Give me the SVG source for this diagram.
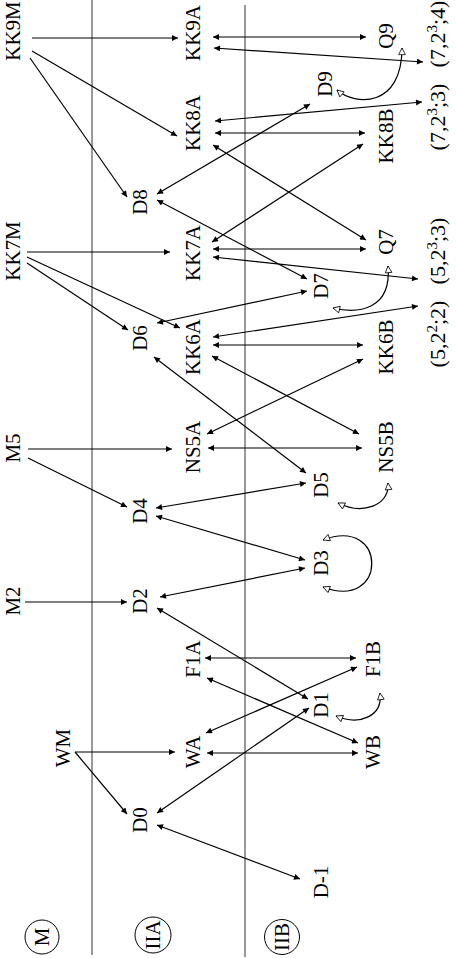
<svg xmlns="http://www.w3.org/2000/svg" width="456" height="958" viewBox="0 0 456 958">
<style>
text{font-family:"Liberation Serif","Times New Roman",serif;font-size:21px;fill:#000;text-anchor:middle}
text.p{font-size:22px}
.c{stroke:#000;stroke-width:1.2;fill:none}
.d{marker-start:url(#a);marker-end:url(#a)}
.s{marker-end:url(#a)}
.o{marker-start:url(#o);marker-end:url(#o)}
.g{stroke:#333;stroke-width:1}
</style>
<defs>
<marker id="a" viewBox="0 0 10 10" refX="10" refY="5" markerWidth="9" markerHeight="6" orient="auto-start-reverse" markerUnits="userSpaceOnUse"><path d="M0,0 L10,5 L0,10 z" fill="#000"/></marker>
<marker id="o" viewBox="-1 -1 12 12" refX="10" refY="5" markerWidth="10" markerHeight="8" orient="auto-start-reverse" markerUnits="userSpaceOnUse"><path d="M0,0 L10,5 L0,10 z" fill="#fff" stroke="#000" stroke-width="1.2"/></marker>
</defs>
<rect width="456" height="958" fill="#fff"/>
<g id="guides">
<line class="g" x1="92" y1="0" x2="92" y2="955"/>
<line class="g" x1="245" y1="5" x2="245" y2="957"/>
</g>
<g id="regions">
<g id="reg-M"><circle cx="42" cy="937" r="17" fill="none" stroke="#000" stroke-width="1"/><text transform="translate(49,937) rotate(-90)">M</text></g>
<g id="reg-IIA"><circle cx="153" cy="935" r="18" fill="none" stroke="#000" stroke-width="1"/><text transform="translate(160,935) rotate(-90)">IIA</text></g>
<g id="reg-IIB"><circle cx="282" cy="937" r="17.5" fill="none" stroke="#000" stroke-width="1"/><text transform="translate(289,937) rotate(-90)">IIB</text></g>
</g>
<g id="connectors">
<path class="c s" d="M32,38 L178,38"/>
<path class="c s" d="M32,51 L177,136"/>
<path class="c s" d="M30,58 L127,197"/>
<path class="c s" d="M27,252 L170,252"/>
<path class="c s" d="M27,263 L128,330"/>
<path class="c s" d="M27,257 L180,328"/>
<path class="c s" d="M28,449 L172,449"/>
<path class="c s" d="M28,458 L127,507"/>
<path class="c s" d="M25,602 L127,602"/>
<path class="c s" d="M75,752 L175,752"/>
<path class="c s" d="M75,752 L127,814"/>
<path class="c d" d="M213,37 L366,37"/>
<path class="c d" d="M214,48 L423,62"/>
<path class="c d" d="M215,121 L422,102"/>
<path class="c d" d="M215,133 L365,133"/>
<path class="c d" d="M157,194 L310,104"/>
<path class="c d" d="M212,242 L363,144"/>
<path class="c d" d="M213,145 L366,240"/>
<path class="c d" d="M157,200 L307,279"/>
<path class="c d" d="M213,249 L366,249"/>
<path class="c d" d="M213,257 L418,279"/>
<path class="c d" d="M157,323 L307,291"/>
<path class="c d" d="M213,337 L418,306"/>
<path class="c d" d="M213,345 L363,345"/>
<path class="c d" d="M207,434 L363,359"/>
<path class="c d" d="M212,356 L359,434"/>
<path class="c d" d="M154,357 L306,473"/>
<path class="c d" d="M208,448 L362,448"/>
<path class="c d" d="M156,508 L306,483"/>
<path class="c d" d="M156,516 L305,560"/>
<path class="c d" d="M160,597 L305,568"/>
<path class="c d" d="M157,608 L308,699"/>
<path class="c d" d="M205,658 L356,658"/>
<path class="c d" d="M207,678 L358,743"/>
<path class="c d" d="M206,733 L357,667"/>
<path class="c d" d="M157,813 L309,708"/>
<path class="c d" d="M207,753 L358,753"/>
<path class="c d" d="M157,825 L300,879"/>
<path class="c o" d="M337,90 C355,106 402,108 402,48"/>
<path class="c o" d="M333,308 C358,314 392,310 388,266"/>
<path class="c o" d="M338,503 C362,515 390,506 388,483"/>
<path class="c o" d="M323,540 C388,515 388,612 323,587"/>
<path class="c o" d="M336,716 C360,726 383,716 380,693"/>
</g>
<g id="KK9M"><text transform="translate(20,31) rotate(-90)">KK9M</text></g>
<g id="KK9A"><text transform="translate(200,33) rotate(-90)">KK9A</text></g>
<g id="Q9"><text transform="translate(393,36) rotate(-90)">Q9</text></g>
<g id="T724"><text class="p" transform="translate(445,34) rotate(-90)">(7,2<tspan font-size="15" dy="-8">3</tspan><tspan dy="8">;4)</tspan></text></g>
<g id="D9"><text transform="translate(332,84) rotate(-90)">D9</text></g>
<g id="KK8A"><text transform="translate(200,123) rotate(-90)">KK8A</text></g>
<g id="KK8B"><text transform="translate(393,136) rotate(-90)">KK8B</text></g>
<g id="T723"><text class="p" transform="translate(445,117) rotate(-90)">(7,2<tspan font-size="15" dy="-8">3</tspan><tspan dy="8">;3)</tspan></text></g>
<g id="D8"><text transform="translate(147,202) rotate(-90)">D8</text></g>
<g id="KK7M"><text transform="translate(20,251) rotate(-90)">KK7M</text></g>
<g id="KK7A"><text transform="translate(200,253) rotate(-90)">KK7A</text></g>
<g id="Q7"><text transform="translate(393,242) rotate(-90)">Q7</text></g>
<g id="T523"><text class="p" transform="translate(445,251) rotate(-90)">(5,2<tspan font-size="15" dy="-8">3</tspan><tspan dy="8">;3)</tspan></text></g>
<g id="D7"><text transform="translate(328,286) rotate(-90)">D7</text></g>
<g id="D6"><text transform="translate(147,338) rotate(-90)">D6</text></g>
<g id="KK6A"><text transform="translate(200,347) rotate(-90)">KK6A</text></g>
<g id="KK6B"><text transform="translate(393,347) rotate(-90)">KK6B</text></g>
<g id="T522"><text class="p" transform="translate(445,334) rotate(-90)">(5,2<tspan font-size="15" dy="-8">2</tspan><tspan dy="8">;2)</tspan></text></g>
<g id="M5"><text transform="translate(20,448) rotate(-90)">M5</text></g>
<g id="NS5A"><text transform="translate(200,447) rotate(-90)">NS5A</text></g>
<g id="NS5B"><text transform="translate(393,447) rotate(-90)">NS5B</text></g>
<g id="D5"><text transform="translate(328,485) rotate(-90)">D5</text></g>
<g id="D4"><text transform="translate(147,511) rotate(-90)">D4</text></g>
<g id="D3"><text transform="translate(328,563) rotate(-90)">D3</text></g>
<g id="M2"><text transform="translate(20,601) rotate(-90)">M2</text></g>
<g id="D2"><text transform="translate(147,601) rotate(-90)">D2</text></g>
<g id="F1A"><text transform="translate(200,659) rotate(-90)">F1A</text></g>
<g id="F1B"><text transform="translate(380,659) rotate(-90)">F1B</text></g>
<g id="D1"><text transform="translate(328,705) rotate(-90)">D1</text></g>
<g id="WM"><text transform="translate(70,748) rotate(-90)">WM</text></g>
<g id="WA"><text transform="translate(200,752) rotate(-90)">WA</text></g>
<g id="WB"><text transform="translate(380,752) rotate(-90)">WB</text></g>
<g id="D0"><text transform="translate(147,820) rotate(-90)">D0</text></g>
<g id="Dm1"><text transform="translate(328,882) rotate(-90)">D-1</text></g>
</svg>
